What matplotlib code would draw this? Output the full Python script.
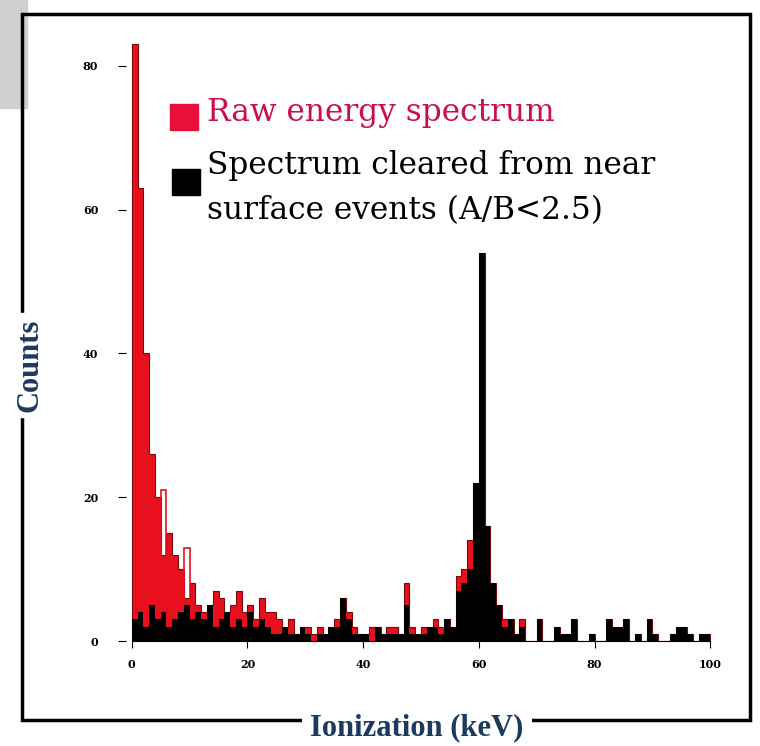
import numpy as np
import matplotlib.pyplot as plt
from matplotlib.patches import Rectangle

# 1 keV bins, 0..100
edges = np.arange(0, 101)
raw = [83, 63, 40, 26, 20, 12, 15, 12, 10, 6, 8, 5, 4, 5, 7, 6, 4, 5, 7, 4,
       5, 3, 6, 4, 4, 3, 2, 3, 1, 2, 2, 1, 2, 1, 2, 3, 5, 4, 2, 1,
       1, 2, 1, 1, 2, 2, 1, 8, 2, 1, 2, 2, 3, 2, 3, 2, 9, 10, 14, 22,
       46, 15, 8, 5, 3, 3, 1, 3, 0, 0, 3, 0, 0, 2, 1, 1, 3, 0, 0, 1,
       0, 0, 3, 2, 2, 3, 0, 1, 0, 3, 1, 0, 0, 1, 2, 2, 1, 0, 1, 1]
cleared = [3, 4, 2, 5, 3, 4, 2, 3, 4, 5, 3, 4, 3, 5, 2, 3, 4, 2, 3, 2,
           4, 2, 3, 2, 1, 1, 2, 1, 1, 2, 1, 0, 1, 1, 2, 2, 6, 3, 1, 1,
           1, 0, 2, 1, 1, 1, 1, 5, 1, 1, 1, 2, 2, 1, 3, 2, 7, 8, 10, 22,
           54, 16, 8, 5, 2, 3, 1, 2, 0, 0, 3, 0, 0, 2, 1, 1, 3, 0, 0, 1,
           0, 0, 3, 2, 2, 3, 0, 1, 0, 3, 1, 0, 0, 1, 2, 2, 1, 0, 1, 1]
raw = np.maximum(raw, cleared)
hollow_x = [5, 9]      # outlined red bins
hollow_y = [21, 13]

serif = ['DejaVu Serif']
navy = '#1b3a5e'

fig = plt.figure(figsize=(7.6, 7.46), dpi=100)
fig.add_artist(Rectangle((0, 1 - 108 / 746), 27 / 760, 108 / 746,
                         transform=fig.transFigure, color='#d0d0d0', zorder=0))
fig.add_artist(Rectangle((22 / 760, 26 / 746), 728 / 760, 706 / 746,
                         transform=fig.transFigure, fill=False, lw=2.5,
                         edgecolor='black', zorder=1))

ax = fig.add_axes([126 / 760, 105 / 746, 590 / 760, 604 / 746])
ax.patch.set_alpha(0)
ax.stairs(raw, edges, fill=True, color='#e8101c', zorder=2)
ax.stairs(raw, edges, color='#7a0a0a', lw=0.8, zorder=2)
for hx, hy in zip(hollow_x, hollow_y):
    ax.stairs([hy], [hx, hx + 1], color='#e8101c', lw=1.2, zorder=2)
ax.stairs(cleared, edges, fill=True, color='black', zorder=3)

ax.set_xlim(-1, 101)
ax.set_ylim(0, 84)
for s in ['top', 'right', 'left']:
    ax.spines[s].set_visible(False)
ax.spines['bottom'].set_bounds(0, 100)
ax.set_xticks([0, 20, 40, 60, 80, 100])
ax.set_yticks([0, 20, 40, 60, 80])
ax.tick_params(axis='y', labelsize=8, length=6, pad=14)
ax.tick_params(axis='x', labelsize=8, length=5, pad=8)
for lab in ax.get_xticklabels() + ax.get_yticklabels():
    lab.set_family(serif)
    lab.set_fontweight('bold')

fig.text(207 / 760, 1 - 112 / 746, 'Raw energy spectrum', color='#c8104a',
         family=serif, fontsize=22.5, va='center')
fig.add_artist(Rectangle((170 / 760, 1 - 130 / 746), 28 / 760, 26 / 746,
                         transform=fig.transFigure, color='#e8103a'))
fig.text(207 / 760, 1 - 188 / 746,
         'Spectrum cleared from near\nsurface events (A/B<2.5)',
         color='black', family=serif, fontsize=22.5, va='center',
         linespacing=1.6)
fig.add_artist(Rectangle((172 / 760, 1 - 195 / 746), 28 / 760, 26 / 746,
                         transform=fig.transFigure, color='black'))

fig.text(30 / 760, 1 - 365 / 746, 'Counts', rotation=90, color=navy,
         family=['Liberation Serif'], fontsize=22, fontweight='bold',
         ha='center', va='center', backgroundcolor='white')
fig.text(417 / 760, 1 - 728 / 746, 'Ionization (keV)', color=navy,
         family=['Liberation Serif'], fontsize=22, fontweight='bold',
         ha='center', va='center',
         bbox=dict(facecolor='white', edgecolor='none', pad=6))

fig.savefig('out.png', dpi=100)
